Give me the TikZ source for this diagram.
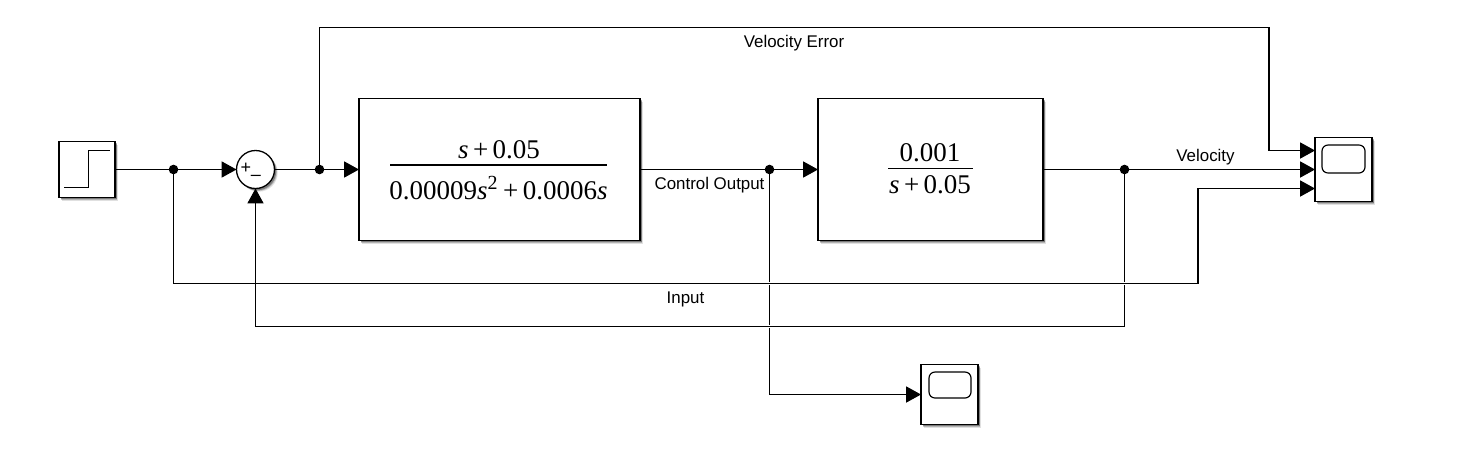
\documentclass[tikz,border=0pt]{standalone}
\usepackage{fontspec}
\setmainfont{Liberation Sans}
\newfontfamily\tffont{Liberation Serif}
\usetikzlibrary{arrows.meta,shadows,calc}
\tikzset{
  x=0.5pt,y=-0.5pt,
  softshadow/.style={
    drop shadow={shadow xshift=1.6pt,shadow yshift=-1.6pt,opacity=.12,fill=black},
    drop shadow={shadow xshift=1.2pt,shadow yshift=-1.2pt,opacity=.2,fill=black},
    drop shadow={shadow xshift=.8pt,shadow yshift=-.9pt,opacity=.3,fill=black}},
  blockbox/.style={draw=black,line width=.65pt,fill=white,inner sep=0pt,outer sep=0pt,softshadow,minimum width=#1*0.5pt},
  wire/.style={draw=black,line width=.58pt},
  arrowwire/.style={wire,-{Triangle[length=7.4pt,width=8pt]}},
  junction/.style={circle,fill=black,inner sep=0pt,outer sep=0pt,minimum size=4.8pt},
  siglabel/.style={font=\fontsize{8.45}{10}\selectfont,text=black,inner sep=0pt},
  tffrac/.style={font=\tffont\fontsize{13.5}{16}\selectfont,inner sep=0pt},
  halo/.style={draw=white,line width=1.1pt},
}
\newcommand{\tfs}{\textit{s}}
\begin{document}
\begin{tikzpicture}
\useasboundingbox (0,0) rectangle (1476,468);
\fill[white] (0,0) rectangle (1476,468);
% blocks
\node[blockbox=56,minimum height=28pt] (step) at (87,169.5) {};
\node[blockbox=281,minimum height=71pt] (tfa) at (499.5,169.5) {};
\node[blockbox=225,minimum height=71pt] (tfb) at (930.5,169.5) {};
\node[blockbox=57,minimum height=32pt] (scopea) at (1343.5,169.5) {};
\node[blockbox=57,minimum height=30pt] (scopeb) at (949.5,394.5) {};
\node[blockbox=38,circle,minimum size=19pt] (sum) at (255.5,169.5) {};
% junctions
\node[junction] (ja) at (173.5,169.5) {};
\node[junction] (jb) at (319.5,169.5) {};
\node[junction] (jc) at (769.5,169.5) {};
\node[junction] (jd) at (1124.5,169.5) {};
% bends and ports
\coordinate (pa) at (1315,150.5);
\coordinate (pc) at (1315,188.5);
\coordinate (ba) at (173.5,283.5);
\coordinate (bb) at (1198,283.5);
\coordinate (bc) at (1198,188.5);
\coordinate (bd) at (319.5,27.5);
\coordinate (be) at (1269,27.5);
\coordinate (bf) at (1269,150.5);
\coordinate (bg) at (1124.5,326.5);
\coordinate (bh) at (255.5,326.5);
\coordinate (bi) at (769.5,394.5);
\coordinate (xa) at (769.5,283.5);
\coordinate (xb) at (769.5,326.5);
\coordinate (xc) at (1124.5,283.5);
% glyphs
\draw[line width=.5pt] (64,187) -- (88,187) -- (88,150) -- (110,150);
\draw[wire,rounded corners=3pt] (1322,145) rectangle (1365,173);
\draw[wire,rounded corners=3pt] (929,372) rectangle (971,398);
\node[inner sep=0pt,font=\fontsize{9}{10}\selectfont] (plus) at (246,168) {+};
\node[inner sep=0pt,font=\fontsize{9}{10}\selectfont] (minus) at (256,178) {–};
% crossed verticals, under the horizontals
\draw[wire] (jc) -- (xa) -- (xb) -- (bi);
\draw[wire] (jd) -- (xc) -- (bg);
\draw[halo] ($(xa)+(-1,0)$) -- ($(xa)+(1,0)$);
\draw[halo] ($(xb)+(-1,0)$) -- ($(xb)+(1,0)$);
\draw[halo] ($(xc)+(-1,0)$) -- ($(xc)+(1,0)$);
% connectors
\draw[wire] (step.east) -- (ja);
\draw[arrowwire] (ja) -- (sum.west);
\draw[wire] (sum.east) -- (jb);
\draw[arrowwire] (jb) -- (tfa.west);
\draw[wire] (tfa.east) -- (jc);
\draw[arrowwire] (jc) -- (tfb.west);
\draw[wire] (tfb.east) -- (jd);
\draw[arrowwire] (jd) -- (scopea.west);
\draw[arrowwire] (jb) -- (bd) -- (be) -- (bf) -- (pa);
\draw[arrowwire] (ja) -- (ba) -- (bb) -- (bc) -- (pc);
\draw[arrowwire] (bg) -- (bh) -- (sum.south);
\draw[arrowwire] (bi) -- (scopeb.west);
% labels
\node[siglabel] (lerr) at (794,43) {Velocity Error};
\node[siglabel] (lvel) at (1205.5,157) {Velocity};
\node[siglabel] (lctl) at (709.5,185) {Control Output};
\node[siglabel] (linp) at (685.5,299) {Input};
% transfer functions
\node[tffrac] (numa) at (499,150) {\tfs\,+\,0.05};
\node[tffrac] (dena) at (498.5,188) {0.00009\tfs\textsuperscript{\fontsize{10}{10}\selectfont 2}\,+\,0.0006\tfs};
\draw[line width=.7pt] (390,165) -- (607,165);
\node[tffrac] (numb) at (930,153) {0.001};
\node[tffrac] (denb) at (930,185) {\tfs\,+\,0.05};
\draw[line width=.8pt] (888,168.5) -- (973,168.5);
\end{tikzpicture}
\end{document}
